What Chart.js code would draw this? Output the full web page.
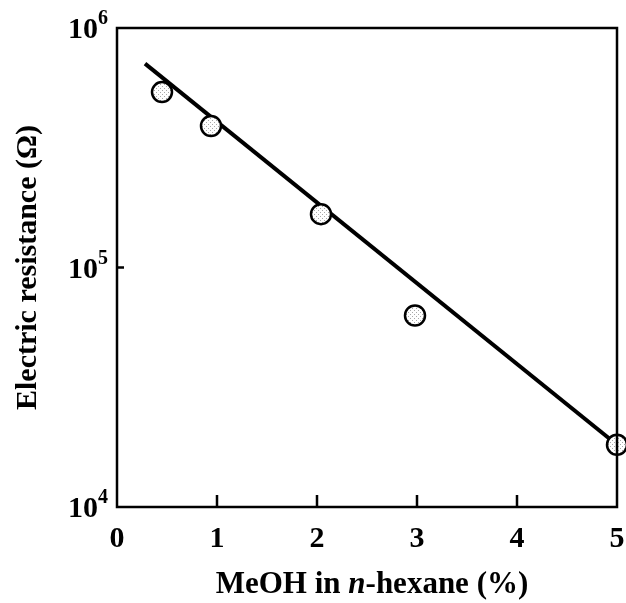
<!DOCTYPE html>
<html>
<head>
<meta charset="utf-8">
<script src="https://cdn.jsdelivr.net/npm/chart.js@4.4.0/dist/chart.umd.min.js"></script>
<style>
  html, body { margin: 0; padding: 0; background: #fff; }
  #wrap { width: 626px; height: 603px; }
</style>
</head>
<body>
<div id="wrap"><canvas id="resChart" width="626" height="603"></canvas></div>
<script>
// Measured points (MeOH % vs resistance in ohm)
const meohPct = [0.45, 0.94, 2.04, 2.98, 5.0];
const resistance = [5.4e5, 3.9e5, 1.67e5, 6.3e4, 1.82e4];

// Fitted straight line (ends)
const fitX = [0.28, 5.0];
const fitY = [7.1e5, 1.82e4];

// Axes
const xTicks = [0, 1, 2, 3, 4, 5];
const yTicks = [1e4, 1e5, 1e6];
const yTickLabels = [['10', '4'], ['10', '5'], ['10', '6']];
const yTitle = 'Electric resistance (\u03A9)';
const xTitleParts = [['MeOH in ', false], ['n', true], ['-hexane (%)', false]];

const SERIF = '"Liberation Serif", "DejaVu Serif", serif';

// stippled fill for the markers
function stipple() {
    const c = document.createElement('canvas');
    c.width = 4; c.height = 4;
    const g = c.getContext('2d');
    g.fillStyle = '#ffffff';
    g.fillRect(0, 0, 4, 4);
    g.fillStyle = '#a8a8a8';
    g.fillRect(0, 0, 1, 1);
    g.fillRect(2, 2, 1, 1);
    return g.createPattern(c, 'repeat');
}

const framePlugin = {
    id: 'frame',
    afterDraw(chart) {
        const { ctx, chartArea: a, scales: { x, y } } = chart;
        ctx.save();
        ctx.strokeStyle = '#000';
        ctx.lineWidth = 2.5;
        ctx.strokeRect(a.left, a.top, a.right - a.left, a.bottom - a.top);

        // inward tick marks
        ctx.beginPath();
        xTicks.slice(1, -1).forEach(v => {
            const px = x.getPixelForValue(v);
            ctx.moveTo(px, a.bottom);
            ctx.lineTo(px, a.bottom - 12);
        });
        const p5 = y.getPixelForValue(1e5);
        ctx.moveTo(a.left, p5);
        ctx.lineTo(a.left + 7, p5);
        ctx.stroke();

        // y tick labels with superscripts
        ctx.fillStyle = '#000';
        ctx.textBaseline = 'alphabetic';
        ctx.textAlign = 'right';
        yTicks.forEach((v, i) => {
            const [base, exp] = yTickLabels[i];
            const py = y.getPixelForValue(v);
            ctx.font = 'bold 20px ' + SERIF;
            const ew = ctx.measureText(exp).width;
            ctx.fillText(exp, a.left - 9, py - 4);
            ctx.font = 'bold 30px ' + SERIF;
            ctx.fillText(base, a.left - 9 - ew, py + 10);
        });

        // x title, with italic n
        const fonts = it => (it ? 'italic bold 31px ' : 'bold 31px ') + SERIF;
        let total = 0;
        xTitleParts.forEach(([t, it]) => { ctx.font = fonts(it); total += ctx.measureText(t).width; });
        let cx = (a.left + a.right) / 2 + 5 - total / 2;
        ctx.textAlign = 'left';
        xTitleParts.forEach(([t, it]) => {
            ctx.font = fonts(it);
            ctx.fillText(t, cx, 593);
            cx += ctx.measureText(t).width;
        });
        ctx.restore();
    }
};

new Chart(document.getElementById('resChart'), {
    type: 'scatter',
    data: {
        datasets: [
            {
                label: 'measured',
                data: meohPct.map((v, i) => ({ x: v, y: resistance[i] })),
                pointStyle: 'circle',
                pointRadius: 10,
                pointBorderWidth: 2.5,
                pointBorderColor: '#000',
                pointBackgroundColor: stipple(),
                clip: false,
                order: 0
            },
            {
                label: 'fit',
                data: fitX.map((v, i) => ({ x: v, y: fitY[i] })),
                showLine: true,
                borderColor: '#000',
                borderWidth: 4,
                pointRadius: 0,
                clip: false,
                order: 1
            }
        ]
    },
    options: {
        responsive: false,
        animation: false,
        devicePixelRatio: 1,
        layout: { autoPadding: false, padding: { top: 28, right: 9, left: 0, bottom: 0 } },
        plugins: { legend: { display: false }, tooltip: { enabled: false } },
        scales: {
            x: {
                type: 'linear',
                min: 0,
                max: 5,
                afterBuildTicks: s => { s.ticks = xTicks.map(v => ({ value: v })); },
                afterFit: s => { s.height = 96; s.paddingLeft = 0; s.paddingRight = 0; },
                grid: { display: false },
                border: { display: false },
                ticks: {
                    color: '#000',
                    padding: 6,
                    maxRotation: 0,
                    font: { family: SERIF, size: 30, weight: 'bold' }
                }
            },
            y: {
                type: 'logarithmic',
                min: 1e4,
                max: 1e6,
                afterBuildTicks: s => { s.ticks = yTicks.map(v => ({ value: v })); },
                afterFit: s => { s.width = 117; s.paddingTop = 0; s.paddingBottom = 0; },
                grid: { display: false },
                border: { display: false },
                ticks: { display: false },
                title: {
                    display: true,
                    text: yTitle,
                    color: '#000',
                    padding: { top: 10, bottom: 0 },
                    font: { family: SERIF, size: 30, weight: 'bold' }
                }
            }
        }
    },
    plugins: [framePlugin]
});
</script>
</body>
</html>
